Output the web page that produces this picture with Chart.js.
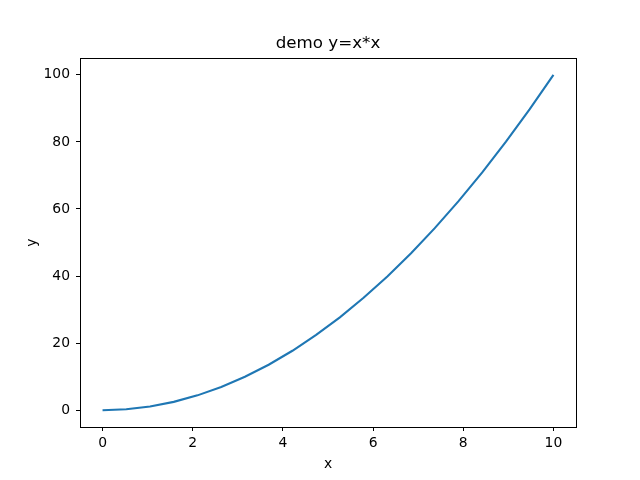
<!DOCTYPE html>
<html>
<head>
<meta charset="utf-8">
<script src="https://cdn.jsdelivr.net/npm/chart.js@4/dist/chart.umd.min.js"></script>
<style>
html,body{margin:0;padding:0;background:#fff;}
#wrap{width:640px;height:480px;position:relative;}
</style>
</head>
<body>
<div id="wrap"><canvas id="c" width="640" height="480"></canvas></div>
<script>
const xValues = [0, 0.526, 1.053, 1.579, 2.105, 2.632, 3.158, 3.684, 4.211, 4.737, 5.263, 5.789, 6.316, 6.842, 7.368, 7.895, 8.421, 8.947, 9.474, 10];
const yValues = [0, 0.28, 1.11, 2.49, 4.43, 6.93, 9.97, 13.57, 17.73, 22.44, 27.70, 33.52, 39.89, 46.81, 54.29, 62.33, 70.91, 80.06, 89.75, 100];
const xTicks = [0, 2, 4, 6, 8, 10];
const yTicks = [0, 20, 40, 60, 80, 100];
const titleText = 'demo y=x*x';
const xLabel = 'x';
const yLabel = 'y';

const points = xValues.map((x, i) => ({x: x, y: yValues[i]}));
const FONT = "'DejaVu Sans', sans-serif";

const frame = {
  id: 'frame',
  afterDraw(chart) {
    const a = chart.chartArea, ctx = chart.ctx;
    ctx.save();
    ctx.strokeStyle = '#000';
    ctx.lineWidth = 1;
    ctx.strokeRect(Math.round(a.left) + 0.5, Math.round(a.top) + 0.5, Math.round(a.right - a.left), Math.round(a.bottom - a.top));
    ctx.restore();
  }
};

new Chart(document.getElementById('c'), {
  type: 'scatter',
  data: {
    datasets: [{
      data: points,
      showLine: true,
      borderColor: '#1f77b4',
      borderWidth: 2.1,
      pointRadius: 0,
      tension: 0,
      fill: false
    }]
  },
  options: {
    responsive: false,
    animation: false,
    devicePixelRatio: 1,
    layout: {padding: {left: 0, right: 64, top: 0, bottom: 0}},
    plugins: {
      legend: {display: false},
      tooltip: {enabled: false},
      title: {
        display: true,
        fullSize: false,
        text: titleText,
        color: '#000',
        font: {family: FONT, size: 16.7, weight: 'normal'},
        padding: {top: 34, bottom: 4}
      }
    },
    scales: {
      x: {
        type: 'linear',
        min: -0.5,
        max: 10.5,
        afterBuildTicks: s => { s.ticks = xTicks.map(v => ({value: v})); },
        afterFit: s => { s.height = 53; },
        grid: {display: true, drawOnChartArea: false, drawTicks: true, tickLength: 4, color: '#000', tickColor: '#000'},
        border: {display: true, color: '#000'},
        ticks: {color: '#000', font: {family: FONT, size: 13.9}, padding: 4, maxRotation: 0, autoSkip: false},
        title: {display: true, text: xLabel, color: '#000', font: {family: FONT, size: 13.9}, padding: {top: 2, bottom: 7}}
      },
      y: {
        type: 'linear',
        min: -5,
        max: 105,
        afterBuildTicks: s => { s.ticks = yTicks.map(v => ({value: v})); },
        afterFit: s => { s.width = 80; },
        grid: {display: true, drawOnChartArea: false, drawTicks: true, tickLength: 4, color: '#000', tickColor: '#000'},
        border: {display: true, color: '#000'},
        ticks: {color: '#000', font: {family: FONT, size: 13.9}, padding: 6, autoSkip: false},
        title: {display: true, text: yLabel, color: '#000', font: {family: FONT, size: 13.9}, padding: {top: 24, bottom: 0}}
      }
    }
  },
  plugins: [frame]
});
</script>
</body>
</html>
